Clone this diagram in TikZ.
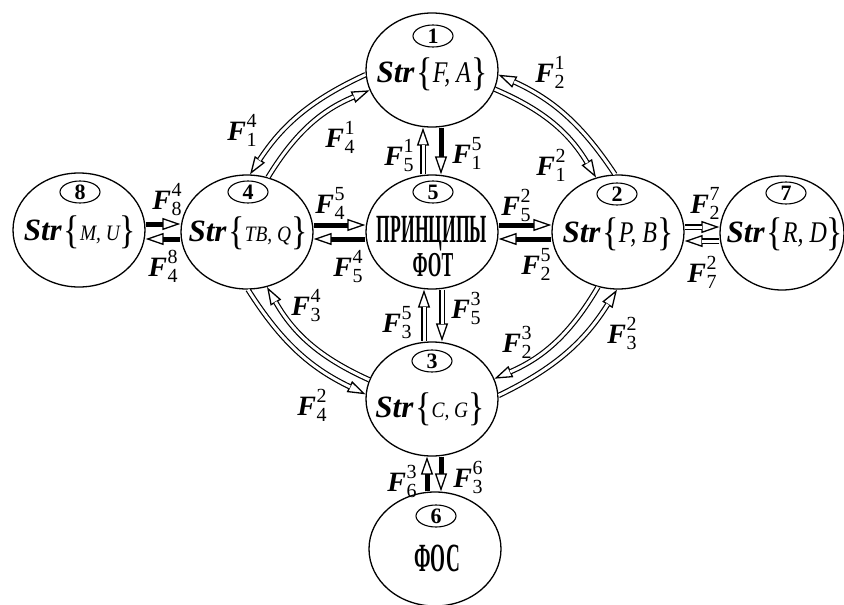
\documentclass[tikz,border=0pt]{standalone}
\usepackage{fontspec}
\usepackage{graphicx}
\setmainfont{Liberation Serif}
\usetikzlibrary{shapes.geometric,arrows.meta}
\newcommand\Fl[2]{{\fontsize{28}{28}\selectfont\bfseries\itshape F}\kern0.5pt\rlap{\raisebox{13pt}{\fontsize{20}{20}\selectfont #2}}\raisebox{-6pt}{\fontsize{20}{20}\selectfont #1}}
\newcommand\Strb[1]{{\fontsize{31}{31}\selectfont\bfseries\itshape Str}\kern2pt\raisebox{-3pt}{\scalebox{0.85}[1]{\fontsize{40}{40}\selectfont\{}}#1\raisebox{-3pt}{\scalebox{0.85}[1]{\fontsize{40}{40}\selectfont\}}}}
\newcommand\Inbig[1]{\scalebox{0.8}[1]{\fontsize{30}{30}\selectfont\itshape #1}}
\newcommand\Insm[1]{\scalebox{0.88}[1]{\fontsize{22}{22}\selectfont\itshape #1}}
\newcommand\Cyr[1]{\scalebox{0.44}[1]{\fontsize{40}{40}\selectfont\bfseries #1}}
\newcommand\Cyrt[1]{\scalebox{0.5}[1]{\fontsize{35}{35}\selectfont\bfseries #1}}
\newcommand\Cyrs[1]{\scalebox{0.48}[1]{\fontsize{40}{40}\selectfont\bfseries #1}}
\newcommand\darrow[1]{\draw[dblout] #1; \draw[dblin] #1;}
\begin{document}
\begin{tikzpicture}[x=1pt,y=-1pt,
  big/.style={ellipse, draw, line width=1.3pt, minimum width=132pt, minimum height=114pt, inner sep=0pt},
  numb/.style={ellipse, draw, line width=1.1pt, minimum width=40pt, minimum height=22pt, inner sep=0pt, font=\fontsize{22}{22}\selectfont\bfseries},
  txt/.style={anchor=base, inner sep=0pt},
  lab/.style={inner sep=0pt},
  thk/.style={line width=5pt, -{Triangle[open, length=18pt, width=12pt, line width=1.3pt]}},
  dblout/.style={line width=5.4pt, -{Triangle[open, length=18pt, width=12pt, line width=1.3pt]}},
  dblin/.style={line width=3pt, white, shorten >=17.3pt}]
\useasboundingbox (0,0) rectangle (844,605);
% main ellipses
\node[big] (n1) at (432,70) {};
\node[big] (n5) at (432,232) {};
\node[big] (n4) at (247,232) {};
\node[big] (n8) at (79,230) {};
\node[big] (n2) at (618,232) {};
\node[big, minimum width=124pt] (n7) at (782,233) {};
\node[big] (n3) at (432,399) {};
\node[big] (n6) at (435,549) {};
% number ellipses
\node[numb] (c1) at (433,36) {1};
\node[numb] (c5) at (433,192) {5};
\node[numb] (c4) at (248,192) {4};
\node[numb] (c8) at (80,192) {8};
\node[numb] (c2) at (617,194) {2};
\node[numb] (c7) at (786,193) {7};
\node[numb] (c3) at (432,361) {3};
\node[numb] (c6) at (436,516) {6};
% texts
\node[txt] (t1) at (432,82) {\Strb{\Inbig{F, A}}};
\node[txt] (t4) at (248,241) {\Strb{\Insm{TB, Q}}};
\node[txt] (t8) at (80,240) {\Strb{\Insm{M, U}}};
\node[txt] (t2) at (618,242) {\Strb{\Inbig{P, B}}};
\node[txt] (t7) at (785,242) {\Strb{\Inbig{R, D}}};
\node[txt] (t3) at (430,417) {\Strb{\Insm{C, G}}};
\node[txt] (t5a) at (432,242) {\Cyr{ПРИНЦИПЫ}};
\node[txt] (t5b) at (433,276) {\Cyrt{ФОТ}};
\node[txt] (t6) at (437,571) {\Cyrs{ФОС}};
% vertical connectors
\draw[thk] ([xshift=9pt]n1.south) -- ([xshift=9pt]n5.north);
\darrow{([xshift=-9pt]n5.north) -- ([xshift=-9pt]n1.south)}
\darrow{([xshift=10pt]n5.south) -- ([xshift=10pt]n3.north)}
\darrow{([xshift=-8pt]n3.north) -- ([xshift=-8pt]n5.south)}
\draw[thk] ([xshift=-8pt]n6.north) -- ([xshift=-5pt]n3.south);
\draw[thk] ([xshift=9pt]n3.south) -- ([xshift=6pt]n6.north);
% horizontal connectors
\draw[thk] ([yshift=6pt]n8.east) -- ([yshift=8pt]n4.west);
\draw[thk] ([yshift=-7pt]n4.west) -- ([yshift=-9pt]n8.east);
\draw[thk] ([yshift=7pt]n4.east) -- ([yshift=7pt]n5.west);
\draw[thk] ([yshift=-7pt]n5.west) -- ([yshift=-7pt]n4.east);
\draw[thk] ([yshift=7pt]n5.east) -- ([yshift=7pt]n2.west);
\draw[thk] ([yshift=-7pt]n2.west) -- ([yshift=-7pt]n5.east);
\darrow{([yshift=5pt]n2.east) -- ([yshift=6pt]n7.west)}
\darrow{([yshift=-8pt]n7.west) -- ([yshift=-9pt]n2.east)}
% arcs
\darrow{(n1.184) to[bend right=16] (n4.87)}
\darrow{(n4.69) to[bend left=18] (n1.198)}
\darrow{(n2.93) to[bend right=16] (n1.356)}
\darrow{(n1.343) to[bend left=18] (n2.112)}
\darrow{(n4.271) to[bend right=16] (n3.176)}
\darrow{(n3.163) to[bend left=18] (n4.290)}
\darrow{(n2.250) to[bend left=18] (n3.18)}
\darrow{(n3.3) to[bend right=16] (n2.269)}
% labels
\node[lab] (l21) at (550,72) {\Fl{2}{1}};
\node[lab] (l12) at (551,165) {\Fl{1}{2}};
\node[lab] (l14) at (242,130) {\Fl{1}{4}};
\node[lab] (l41) at (340,137) {\Fl{4}{1}};
\node[lab] (l51) at (399,155) {\Fl{5}{1}};
\node[lab] (l15) at (467,153) {\Fl{1}{5}};
\node[lab] (l45) at (330,203) {\Fl{4}{5}};
\node[lab] (l54) at (348,267) {\Fl{5}{4}};
\node[lab] (l52) at (516,205) {\Fl{5}{2}};
\node[lab] (l25) at (536,264) {\Fl{2}{5}};
\node[lab] (l84) at (167,200) {\Fl{8}{4}};
\node[lab] (l48) at (163,266) {\Fl{4}{8}};
\node[lab] (l27) at (705,203) {\Fl{2}{7}};
\node[lab] (l72) at (702,272) {\Fl{7}{2}};
\node[lab] (l34) at (306,306) {\Fl{3}{4}};
\node[lab] (l35) at (397,323) {\Fl{3}{5}};
\node[lab] (l53) at (466,308) {\Fl{5}{3}};
\node[lab] (l23) at (517,342) {\Fl{2}{3}};
\node[lab] (l32) at (622,333) {\Fl{3}{2}};
\node[lab] (l42) at (312,405) {\Fl{4}{2}};
\node[lab] (l63) at (402,481) {\Fl{6}{3}};
\node[lab] (l36) at (468,477) {\Fl{3}{6}};
\end{tikzpicture}
\end{document}
